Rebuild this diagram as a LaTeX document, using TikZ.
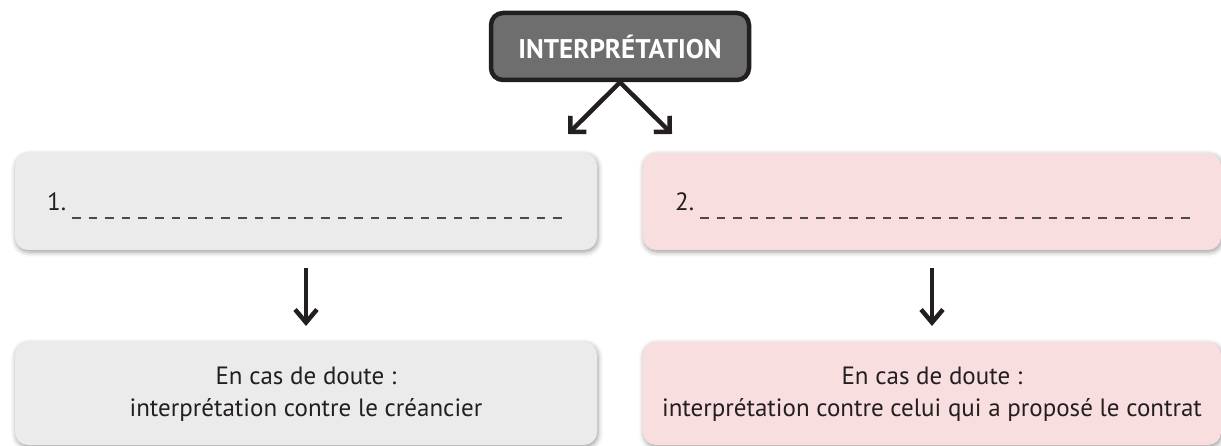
\documentclass[tikz,border=0pt]{standalone}
\usepackage{fontspec}
\setmainfont{PT Sans}
\usetikzlibrary{arrows.meta,shadows.blur}
\definecolor{inkdark}{HTML}{231F20}
\definecolor{headfill}{HTML}{6E6E6E}
\definecolor{greybox}{HTML}{EBEBEB}
\definecolor{pinkbox}{HTML}{F9DEE0}
\definecolor{dashgrey}{HTML}{4A4A4A}
\tikzset{
  headbox/.style={draw=inkdark, line width=4.5pt, fill=headfill, rounded corners=12pt,
    minimum width=258pt, minimum height=67pt, inner sep=0pt,
    text=white, font=\fontsize{27}{31}\selectfont\bfseries},
  panel/.style={rounded corners=13pt, minimum width=582pt, inner sep=0pt,
    blur shadow={shadow xshift=1pt, shadow yshift=-2pt, shadow blur radius=5pt, shadow opacity=40}},
  greypanel/.style={panel, fill=greybox},
  pinkpanel/.style={panel, fill=pinkbox},
  bodytext/.style={text=inkdark, align=center, inner sep=0pt,
    font=\fontsize{25}{32}\selectfont},
  numtext/.style={text=inkdark, anchor=base west, inner sep=0pt,
    font=\fontsize{25}{30}\selectfont},
  blank/.style={draw=dashgrey, line width=1.4pt, dash pattern=on 8.5pt off 8.1pt},
  splitarrow/.style={draw=inkdark, line width=4.5pt,
    -{Straight Barb[angle=90:16pt, line width=4.5pt]}},
  downarrow/.style={draw=inkdark, line width=4.5pt,
    -{Straight Barb[angle=80:17pt, line width=4.5pt]}}
}
\begin{document}
\begin{tikzpicture}[x=1pt, y=-1pt]
  \useasboundingbox (0,0) rectangle (1221,446);

  % header
  \node[headbox] (head) at (620,46.5) {INTERPRÉTATION};

  % first row of panels
  \node[greypanel, minimum height=97pt] (left1) at (306,201.5) {};
  \node[pinkpanel, minimum height=97pt, minimum width=578pt] (right1) at (932,201.5) {};

  % second row of panels
  \node[greypanel, minimum height=103pt] (left2) at (306,393.5) {};
  \node[pinkpanel, minimum height=103pt, minimum width=578pt] (right2) at (932,393.5) {};

  % numbered blanks
  \node[numtext] (n1) at (47,211) {1.};
  \node[numtext] (n2) at (675,211) {2.};
  \coordinate (b1s) at (72,218);
  \coordinate (b1e) at (562,218);
  \coordinate (b2s) at (700,218);
  \coordinate (b2e) at (1190,218);
  \draw[blank] (b1s) -- (b1e);
  \draw[blank] (b2s) -- (b2e);

  % consequences
  \node[bodytext] (t1) at (306,394) {En cas de doute :\\interprétation contre le créancier};
  \node[bodytext] (t2) at (932,394) {En cas de doute :\\interprétation contre celui qui a proposé le contrat};

  % arrows from the header
  \coordinate (tipL) at (568,134);
  \coordinate (tipR) at (672,134);
  \draw[splitarrow] (head.south) -- (tipL);
  \draw[splitarrow] (head.south) -- (tipR);

  % arrows between rows
  \coordinate (dl) at (306,326);
  \coordinate (dr) at (932,326);
  \draw[downarrow] (306,268) -- (dl);
  \draw[downarrow] (932,268) -- (dr);
\end{tikzpicture}
\end{document}
